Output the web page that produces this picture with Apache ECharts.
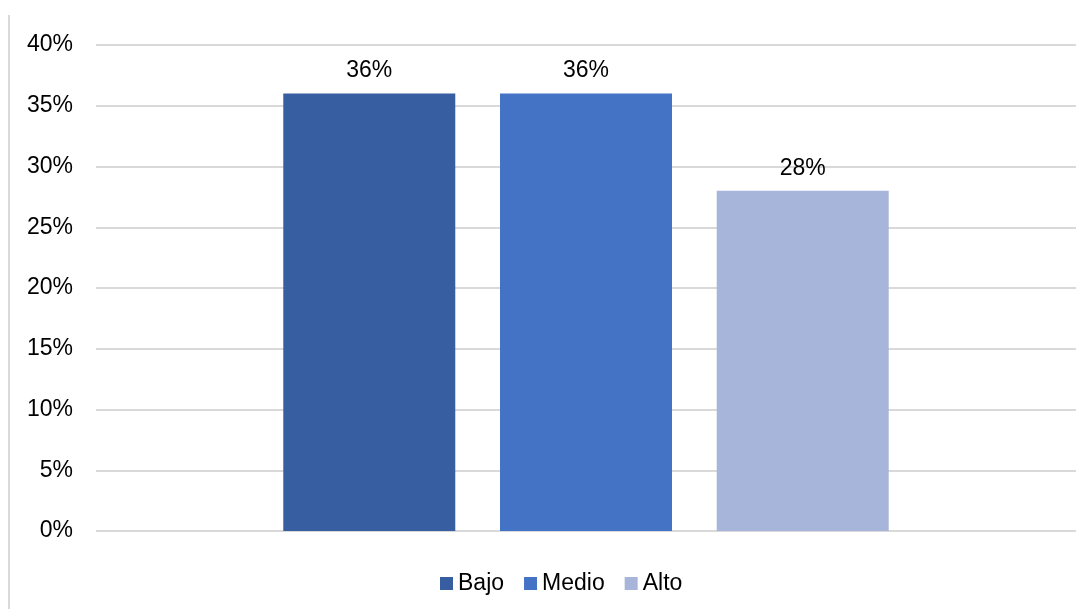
<!DOCTYPE html>
<html><head><meta charset="utf-8">
<script src="https://cdn.jsdelivr.net/npm/echarts@6/dist/echarts.min.js"></script>
<style>html,body{margin:0;padding:0;background:#fff}#c{width:1092px;height:609px}</style>
</head><body><div id="c"></div>
<script>
const categories = [''];
const seriesNames = ['Bajo', 'Medio', 'Alto'];
const bajo = [36];
const medio = [36];
const alto = [28];
const colors = ['#375EA1', '#4473C6', '#A8B5DA'];
const font = '"Liberation Sans", Arial, sans-serif';
const values = [bajo, medio, alto];
const chart = echarts.init(document.getElementById('c'));
chart.setOption({
  animation: false,
  textStyle: { fontFamily: font },
  grid: { left: 96, right: 16, top: 45, bottom: 78, containLabel: false },
  graphic: [{ type: 'rect', shape: { x: 8, y: 15, width: 2, height: 600 }, style: { fill: '#d9d9d9' } }],
  legend: {
    bottom: 14, left: 440, itemWidth: 13, itemHeight: 13, itemGap: 20, padding: 0,
    icon: 'rect',
    textStyle: { fontSize: 23, color: '#000', fontFamily: font },
    data: seriesNames
  },
  xAxis: { type: 'category', data: categories, axisLine: { show: false }, axisTick: { show: false }, axisLabel: { show: false } },
  yAxis: {
    type: 'value', min: 0, max: 40, interval: 5,
    axisLine: { show: false }, axisTick: { show: false },
    splitLine: { lineStyle: { color: '#d9d9d9', width: 2 } },
    axisLabel: { formatter: '{value}%', fontSize: 23, color: '#000', fontFamily: font, margin: 23, padding: [4, 0, 0, 0] }
  },
  series: seriesNames.map((n, i) => ({
    name: n, type: 'bar', data: values[i], barWidth: 172, barGap: '26%',
    itemStyle: { color: colors[i] },
    label: { show: true, position: 'top', distance: 11, formatter: '{c}%', fontSize: 23, color: '#000', fontFamily: font }
  }))
});
</script></body></html>
